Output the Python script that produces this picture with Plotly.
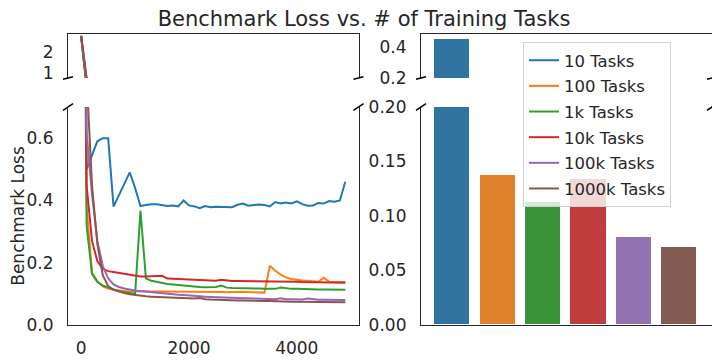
import plotly.graph_objects as go

# Données
steps = list(range(0, 5000, 100))

loss_10 = [2.72, 0.50, 0.545, 0.59, 0.60, 0.60, 0.38, 0.415, 0.45, 0.49,
           0.44, 0.382, 0.385, 0.388, 0.388, 0.385, 0.382, 0.384, 0.381, 0.40,
           0.384, 0.381, 0.375, 0.382, 0.378, 0.38, 0.38, 0.38, 0.378, 0.386,
           0.39, 0.383, 0.386, 0.387, 0.385, 0.381, 0.395, 0.39, 0.393, 0.39,
           0.397, 0.388, 0.383, 0.384, 0.392, 0.39, 0.398, 0.396, 0.40, 0.46]
loss_100 = [2.74, 0.38, 0.168, 0.14, 0.124, 0.117, 0.113, 0.11, 0.109, 0.108,
            0.108, 0.108, 0.107, 0.107, 0.107, 0.106, 0.107, 0.107, 0.106, 0.106,
            0.106, 0.106, 0.107, 0.107, 0.106, 0.106, 0.106, 0.105, 0.106, 0.107,
            0.107, 0.106, 0.105, 0.105, 0.104, 0.19, 0.174, 0.162, 0.153, 0.148,
            0.145, 0.143, 0.142, 0.141, 0.139, 0.152, 0.139, 0.138, 0.138, 0.138]
loss_1k = [2.73, 0.32, 0.165, 0.138, 0.127, 0.12, 0.113, 0.108, 0.105, 0.102,
           0.10, 0.367, 0.15, 0.142, 0.138, 0.135, 0.132, 0.13, 0.128, 0.127,
           0.125, 0.124, 0.122, 0.121, 0.121, 0.122, 0.127, 0.12, 0.119, 0.119,
           0.118, 0.118, 0.117, 0.117, 0.116, 0.116, 0.116, 0.12, 0.117, 0.116,
           0.116, 0.115, 0.115, 0.115, 0.114, 0.114, 0.114, 0.113, 0.113, 0.113]
loss_10k = [2.75, 0.45, 0.27, 0.205, 0.18, 0.173, 0.17, 0.167, 0.163, 0.16,
            0.158, 0.156, 0.156, 0.157, 0.159, 0.158, 0.149, 0.148, 0.147, 0.146,
            0.145, 0.144, 0.143, 0.143, 0.142, 0.142, 0.145, 0.142, 0.141, 0.141,
            0.141, 0.14, 0.14, 0.14, 0.14, 0.139, 0.14, 0.139, 0.139, 0.139,
            0.139, 0.138, 0.138, 0.138, 0.138, 0.137, 0.137, 0.137, 0.136, 0.136]
loss_100k = [2.80, 0.62, 0.42, 0.27, 0.19, 0.15, 0.13, 0.122, 0.117, 0.113,
             0.111, 0.109, 0.107, 0.105, 0.103, 0.101, 0.099, 0.098, 0.097, 0.096,
             0.094, 0.093, 0.092, 0.091, 0.09, 0.089, 0.09, 0.088, 0.087, 0.087,
             0.086, 0.086, 0.085, 0.085, 0.084, 0.084, 0.083, 0.086, 0.083, 0.083,
             0.082, 0.082, 0.085, 0.082, 0.081, 0.081, 0.081, 0.08, 0.08, 0.08]
loss_1000k = [2.76, 0.80, 0.45, 0.26, 0.16, 0.125, 0.113, 0.107, 0.103, 0.099,
              0.096, 0.094, 0.092, 0.091, 0.09, 0.089, 0.088, 0.087, 0.086, 0.085,
              0.084, 0.085, 0.087, 0.083, 0.082, 0.081, 0.081, 0.08, 0.08, 0.079,
              0.079, 0.078, 0.078, 0.077, 0.077, 0.077, 0.076, 0.076, 0.076, 0.075,
              0.075, 0.075, 0.074, 0.074, 0.074, 0.074, 0.073, 0.073, 0.073, 0.073]

noms_series = ["10 Tasks", "100 Tasks", "1k Tasks", "10k Tasks", "100k Tasks", "1000k Tasks"]
series = [loss_10, loss_100, loss_1k, loss_10k, loss_100k, loss_1000k]
loss_finale = [0.45, 0.138, 0.113, 0.134, 0.081, 0.072]

couleurs_lignes = ["#1f77b4", "#ff7f0e", "#2ca02c", "#d62728", "#9467bd", "#8c564b"]
couleurs_barres = ["#3274a1", "#e1812c", "#3a923a", "#c03d3e", "#9372b2", "#845b53"]

TEXTE = "#262626"
POLICE = "DejaVu Sans"

# Géométrie en pixels de la fenêtre ; la page décale la figure de 8 px (marge du body)
DECAL = 8
W, H = 720 - DECAL, 360 - DECAL
L, R, T, B = 68 - DECAL, 8, 34 - DECAL, 35
PW, PH = W - L - R, H - T - B


def px_x(x):
    return (x - DECAL - L) / PW


def px_y(y):
    return (H - B - (y - DECAL)) / PH


dom_gauche = [0, px_x(358.5)]
dom_droite = [px_x(421), 1]
dom_bas = [0, px_y(107)]
dom_haut = [px_y(78), 1]

fig = go.Figure()

for nom, vals, col in zip(noms_series, series, couleurs_lignes):
    fig.add_trace(go.Scatter(x=steps, y=vals, mode="lines", name=nom, legendgroup=nom,
                             line=dict(color=col, width=2), xaxis="x", yaxis="y"))
    fig.add_trace(go.Scatter(x=steps, y=vals, mode="lines", name=nom, legendgroup=nom,
                             showlegend=False, line=dict(color=col, width=2),
                             xaxis="x2", yaxis="y2"))

for ax_x, ax_y in (("x3", "y3"), ("x4", "y4")):
    fig.add_trace(go.Bar(x=noms_series, y=loss_finale, width=0.8, showlegend=False,
                         marker=dict(color=couleurs_barres, line=dict(color="white", width=1)),
                         xaxis=ax_x, yaxis=ax_y))

axe = dict(showgrid=False, zeroline=False, showline=True, linecolor=TEXTE, linewidth=1.25,
           ticks="", automargin=False, tickfont=dict(size=17, color=TEXTE, family=POLICE))

fig.update_layout(
    xaxis=dict(axe, domain=dom_gauche, anchor="y", range=[-245, 5145],
               tickvals=[0, 2000, 4000], ticklabelstandoff=7),
    yaxis=dict(axe, domain=dom_bas, anchor="x", range=[0, 0.70], mirror=True,
               tickvals=[0, 0.2, 0.4, 0.6], tickformat=".1f", ticklabelstandoff=10,
               title=dict(text="Benchmark Loss", standoff=13,
                          font=dict(size=17, color=TEXTE, family=POLICE))),
    xaxis2=dict(axe, domain=dom_gauche, anchor="y2", side="top", range=[-245, 5145],
                showticklabels=False),
    yaxis2=dict(axe, domain=dom_haut, anchor="x2", range=[0.76, 2.86], mirror=True,
                tickvals=[1, 2], ticklabelstandoff=10),
    xaxis3=dict(axe, domain=dom_droite, anchor="y3", range=[-0.69, 5.72],
                showticklabels=False),
    yaxis3=dict(axe, domain=dom_bas, anchor="x3", range=[0, 0.2], mirror=True,
                tickvals=[0, 0.05, 0.10, 0.15, 0.20], tickformat=".2f", ticklabelstandoff=10),
    xaxis4=dict(axe, domain=dom_droite, anchor="y4", side="top", range=[-0.69, 5.72],
                showticklabels=False),
    yaxis4=dict(axe, domain=dom_haut, anchor="x4", range=[0.2, 0.48], mirror=True,
                tickvals=[0.2, 0.4], tickformat=".1f", ticklabelstandoff=10),
    title=dict(text="Benchmark Loss vs. # of Training Tasks", x=0.5, xanchor="center",
               y=1 - 11 / H, yanchor="middle",
               font=dict(size=21, color=TEXTE, family=POLICE)),
    legend=dict(x=px_x(523), y=px_y(42), xanchor="left", yanchor="top",
                bgcolor="rgba(255,255,255,0.8)", bordercolor="#d0d0d0", borderwidth=1,
                tracegroupgap=1.2, font=dict(size=16.5, color=TEXTE, family=POLICE)),
    width=W, height=H,
    margin=dict(l=L, r=R, t=T, b=B),
    plot_bgcolor="white", paper_bgcolor="white",
    font=dict(family=POLICE, color=TEXTE),
    bargap=0,
)

# Marques de coupure de l'axe
marques = []
for x in (68, 358.5, 421, 712):
    marques.append((x - 5, 79.3, x + 5, 76.7))
    marques.append((x - 5, 110.3, x + 5, 103.7))
for x0, y0, x1, y1 in marques:
    fig.add_shape(type="line", xref="paper", yref="paper",
                  x0=px_x(x0), y0=px_y(y0), x1=px_x(x1), y1=px_y(y1),
                  line=dict(color="black", width=1.5))

fig.write_html("out.html")
